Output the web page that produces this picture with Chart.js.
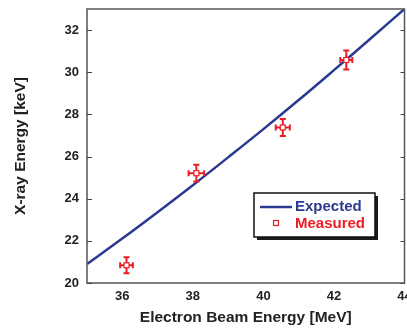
<!DOCTYPE html>
<html>
<head>
<meta charset="utf-8">
<script src="https://cdn.jsdelivr.net/npm/chart.js@4/dist/chart.umd.min.js"></script>
<style>
    html, body { margin: 0; padding: 0; background: #fff; overflow: hidden; }
    #chart { display: block; }
</style>
</head>
<body>
<canvas id="chart" width="407" height="331"></canvas>
<script>
// Expected curve
const expectedBeam = [35, 36, 37, 38, 39, 40, 41, 42, 43, 44];
const expectedXray = [20.9, 22.11, 23.36, 24.64, 25.96, 27.3, 28.68, 30.1, 31.54, 33.0];

// Measured points with error bars
const measuredBeam = [36.12, 38.1, 40.55, 42.35];
const measuredXray = [20.84, 25.21, 27.38, 30.58];
const measuredBeamErr = [0.18, 0.22, 0.2, 0.17];
const measuredXrayErr = [0.38, 0.4, 0.4, 0.45];

// Tick labels
const xTicks = [36, 38, 40, 42, 44];
const yTicks = [20, 22, 24, 26, 28, 30, 32];

const blue = '#2b3990';
const red = '#ec1c24';
const axisFont = { family: 'Liberation Sans, Arial, sans-serif', size: 13, weight: 'bold' };
const titleFont = { family: 'Liberation Sans, Arial, sans-serif', size: 15.5, weight: 'bold' };

// Frame, inward y ticks, error bars and boxed legend
const extrasPlugin = {
    id: 'extras',
    afterDatasetsDraw(chart) {
        const ctx = chart.ctx;
        const a = chart.chartArea;
        const xs = chart.scales.x;
        const ys = chart.scales.y;

        // error bars
        ctx.save();
        ctx.strokeStyle = red;
        ctx.lineWidth = 2;
        measuredBeam.forEach((b, i) => {
            const px = xs.getPixelForValue(b);
            const py = ys.getPixelForValue(measuredXray[i]);
            const x0 = xs.getPixelForValue(b - measuredBeamErr[i]);
            const x1 = xs.getPixelForValue(b + measuredBeamErr[i]);
            const y0 = ys.getPixelForValue(measuredXray[i] - measuredXrayErr[i]);
            const y1 = ys.getPixelForValue(measuredXray[i] + measuredXrayErr[i]);
            const cap = 3;
            ctx.beginPath();
            ctx.moveTo(x0, py); ctx.lineTo(x1, py);
            ctx.moveTo(x0, py - cap); ctx.lineTo(x0, py + cap);
            ctx.moveTo(x1, py - cap); ctx.lineTo(x1, py + cap);
            ctx.moveTo(px, y0); ctx.lineTo(px, y1);
            ctx.moveTo(px - cap, y0); ctx.lineTo(px + cap, y0);
            ctx.moveTo(px - cap, y1); ctx.lineTo(px + cap, y1);
            ctx.stroke();
            ctx.fillStyle = '#fff';
            ctx.fillRect(px - 2.5, py - 2.5, 5, 5);
            ctx.lineWidth = 1.2;
            ctx.strokeRect(px - 2.5, py - 2.5, 5, 5);
            ctx.lineWidth = 2;
        });
        ctx.restore();

        // frame
        ctx.save();
        ctx.strokeStyle = '#555';
        ctx.lineWidth = 1.5;
        ctx.strokeRect(a.left, a.top, a.right - a.left, a.bottom - a.top);
        ctx.lineWidth = 1;
        ctx.strokeStyle = '#444';
        ctx.beginPath();
        yTicks.forEach(v => {
            const py = Math.round(ys.getPixelForValue(v)) + 0.5;
            ctx.moveTo(a.left, py); ctx.lineTo(a.left + 5, py);
            ctx.moveTo(a.right, py); ctx.lineTo(a.right - 4, py);
        });
        ctx.stroke();
        ctx.restore();

        // legend box
        const lx = 254, ly = 193, lw = 121, lh = 44;
        ctx.save();
        ctx.fillStyle = '#1a1a1a';
        ctx.fillRect(lx + 3, ly + 3, lw, lh);
        ctx.fillStyle = '#fff';
        ctx.fillRect(lx, ly, lw, lh);
        ctx.strokeStyle = '#111';
        ctx.lineWidth = 1.5;
        ctx.strokeRect(lx, ly, lw, lh);
        ctx.strokeStyle = blue;
        ctx.lineWidth = 2.5;
        ctx.beginPath();
        ctx.moveTo(260, 207); ctx.lineTo(292, 207);
        ctx.stroke();
        ctx.strokeStyle = red;
        ctx.lineWidth = 1.2;
        ctx.strokeRect(273.5, 220.5, 5, 5);
        ctx.font = 'bold 15px Liberation Sans, Arial, sans-serif';
        ctx.textBaseline = 'middle';
        ctx.fillStyle = blue;
        ctx.fillText('Expected', 295, 207);
        ctx.fillStyle = red;
        ctx.fillText('Measured', 295, 224);
        ctx.restore();
    }
};

const ctx = document.getElementById('chart').getContext('2d');
const chart = new Chart(ctx, {
    type: 'scatter',
    data: {
        datasets: [{
            label: 'Expected',
            data: expectedBeam.map((b, i) => ({ x: b, y: expectedXray[i] })),
            showLine: true,
            borderColor: blue,
            borderWidth: 2.5,
            pointRadius: 0,
            tension: 0.4
        }, {
            label: 'Measured',
            data: measuredBeam.map((b, i) => ({ x: b, y: measuredXray[i] })),
            pointRadius: 0,
            borderColor: red
        }]
    },
    options: {
        responsive: false,
        animation: false,
        layout: { padding: { left: 7, top: 9, right: 2.5, bottom: 4 } },
        plugins: {
            legend: { display: false },
            tooltip: { enabled: false }
        },
        scales: {
            x: {
                type: 'linear',
                min: 35,
                max: 44,
                afterBuildTicks: s => { s.ticks = xTicks.map(v => ({ value: v })); },
                afterFit: s => { s.height = 44; s.paddingLeft = 0; s.paddingRight = 0; },
                grid: { display: false, drawTicks: false },
                border: { display: false },
                ticks: { font: axisFont, color: '#222', padding: 6, maxRotation: 0 },
                title: { display: true, text: 'Electron Beam Energy [MeV]', font: titleFont, color: '#222', padding: { top: 4, bottom: 0 } }
            },
            y: {
                min: 20,
                max: 33,
                afterBuildTicks: s => { s.ticks = yTicks.map(v => ({ value: v })); },
                afterFit: s => { s.width = 80; s.paddingTop = 0; s.paddingBottom = 0; },
                grid: { display: false, drawTicks: false },
                border: { display: false },
                ticks: { font: axisFont, color: '#222', padding: 8 },
                title: { display: true, text: 'X-ray Energy [keV]', font: titleFont, color: '#222', padding: { top: 4, bottom: 4 } }
            }
        }
    },
    plugins: [extrasPlugin]
});
</script>
</body>
</html>
